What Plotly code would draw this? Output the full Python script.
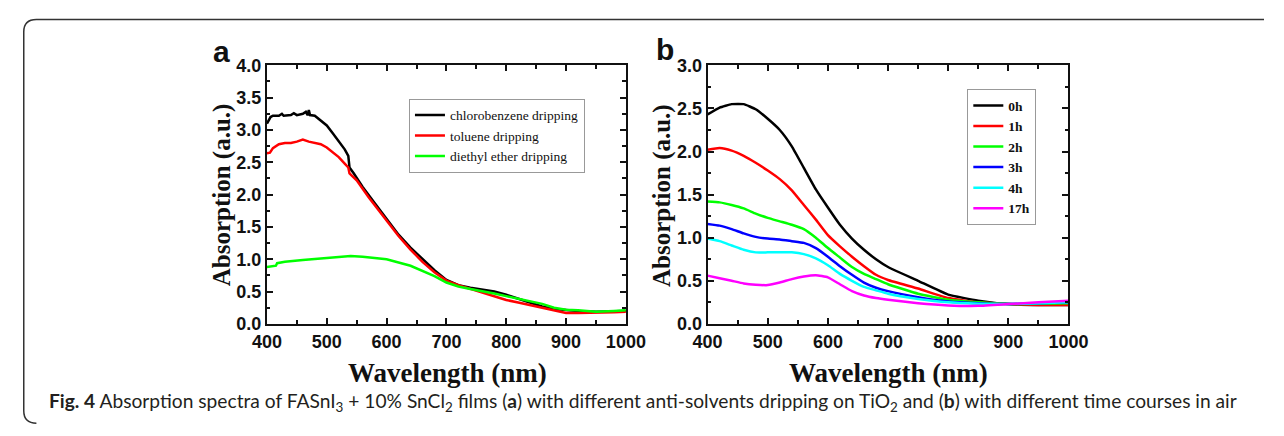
import plotly.graph_objects as go

W, H = 1284, 436

# ---------------- Panel a data ----------------
wl_chloro = [400, 403, 406, 410, 420, 425, 428, 440, 445, 450, 460, 465, 468, 470, 472, 480, 490, 500,
             510, 520, 530, 536, 538, 545, 560, 580, 600, 620, 640, 660, 680, 700, 720, 740, 760, 780,
             800, 820, 840, 860, 880, 900, 920, 950, 980, 1000]
abs_chloro = [3.10, 3.15, 3.20, 3.22, 3.22, 3.25, 3.22, 3.23, 3.26, 3.23, 3.25, 3.28, 3.23, 3.31, 3.23,
              3.22, 3.15, 3.07, 2.95, 2.83, 2.70, 2.60, 2.42, 2.33, 2.12, 1.87, 1.62, 1.38, 1.18, 1.00,
              0.83, 0.68, 0.60, 0.56, 0.53, 0.50, 0.45, 0.39, 0.33, 0.27, 0.23, 0.21, 0.20, 0.19, 0.19, 0.20]

wl_toluene = [400, 405, 410, 420, 430, 440, 450, 460, 470, 480, 490, 500, 510, 520, 530, 536, 538, 550,
              570, 600, 620, 640, 660, 680, 700, 720, 740, 760, 780, 800, 820, 840, 860, 880, 900, 920,
              950, 980, 1000]
abs_toluene = [2.64, 2.65, 2.72, 2.78, 2.80, 2.80, 2.82, 2.85, 2.82, 2.80, 2.78, 2.73, 2.66, 2.58, 2.48,
               2.42, 2.33, 2.22, 1.96, 1.60, 1.36, 1.15, 0.96, 0.80, 0.67, 0.60, 0.54, 0.49, 0.43, 0.37,
               0.33, 0.29, 0.25, 0.20, 0.17, 0.17, 0.17, 0.18, 0.19]

wl_ether = [400, 410, 415, 417, 430, 460, 500, 540, 560, 600, 640, 680, 700, 720, 740, 760, 780, 800,
            820, 840, 860, 880, 900, 920, 950, 980, 1000]
abs_ether = [0.88, 0.89, 0.90, 0.94, 0.96, 0.99, 1.02, 1.05, 1.04, 1.00, 0.90, 0.74, 0.64, 0.58, 0.54,
             0.51, 0.47, 0.43, 0.39, 0.35, 0.31, 0.25, 0.22, 0.21, 0.19, 0.20, 0.21]

names_a = ["chlorobenzene dripping", "toluene dripping", "diethyl ether dripping"]
colors_a = ["#000000", "#ff0000", "#00ff00"]

# ---------------- Panel b data ----------------
wl_b = [400, 420, 440, 460, 480, 500, 520, 540, 560, 580, 600, 620, 640, 660, 680, 700, 750, 800, 850,
        900, 950, 1000]
abs_0h = [2.43, 2.51, 2.55, 2.55, 2.49, 2.38, 2.25, 2.06, 1.81, 1.56, 1.35, 1.15, 0.99, 0.86, 0.75, 0.66,
          0.50, 0.34, 0.27, 0.23, 0.22, 0.22]
abs_1h = [2.02, 2.04, 2.01, 1.95, 1.87, 1.78, 1.68, 1.55, 1.38, 1.21, 1.03, 0.90, 0.78, 0.67, 0.57, 0.51,
          0.41, 0.30, 0.25, 0.23, 0.22, 0.22]
abs_2h = [1.42, 1.41, 1.38, 1.34, 1.28, 1.23, 1.19, 1.15, 1.10, 1.00, 0.88, 0.77, 0.66, 0.58, 0.52, 0.46,
          0.35, 0.28, 0.25, 0.23, 0.235, 0.24]
abs_3h = [1.16, 1.14, 1.10, 1.05, 1.01, 0.99, 0.98, 0.96, 0.94, 0.88, 0.78, 0.67, 0.57, 0.48, 0.42, 0.38,
          0.31, 0.26, 0.24, 0.23, 0.24, 0.25]
abs_4h = [0.99, 0.96, 0.91, 0.86, 0.83, 0.83, 0.83, 0.83, 0.81, 0.76, 0.68, 0.58, 0.50, 0.43, 0.39, 0.35,
          0.29, 0.25, 0.235, 0.23, 0.24, 0.25]
abs_17h = [0.56, 0.53, 0.50, 0.47, 0.455, 0.45, 0.48, 0.52, 0.55, 0.565, 0.54, 0.46, 0.38, 0.33, 0.30, 0.28,
           0.24, 0.215, 0.21, 0.23, 0.25, 0.27]
names_b = ["0h", "1h", "2h", "3h", "4h", "17h"]
colors_b = ["#000000", "#ff0000", "#00ff00", "#0000ff", "#00ffff", "#ff00ff"]

xticks = [400, 500, 600, 700, 800, 900, 1000]


def px(x):
    return x / W


def py(y):
    return 1 - y / H


fig = go.Figure()

for wl, vals, name, col in zip([wl_chloro, wl_toluene, wl_ether],
                               [abs_chloro, abs_toluene, abs_ether], names_a, colors_a):
    fig.add_trace(go.Scatter(x=wl, y=vals, name=name, mode="lines",
                             line=dict(color=col, width=2.5), xaxis="x", yaxis="y", legend="legend"))

for vals, name, col in zip([abs_0h, abs_1h, abs_2h, abs_3h, abs_4h, abs_17h], names_b, colors_b):
    fig.add_trace(go.Scatter(x=wl_b, y=vals, name="<b>%s</b>" % name, mode="lines",
                             line=dict(color=col, width=2.5, shape="spline", smoothing=0.4),
                             xaxis="x2", yaxis="y2", legend="legend2"))

tickfont = dict(family="Liberation Sans", size=18, color="#111111", weight="bold")
common_x = dict(range=[400, 1000], tickvals=xticks, ticks="inside", ticklen=6, tickwidth=1.5,
                showline=True, linewidth=2, linecolor="#111111", mirror="allticks", showgrid=False,
                zeroline=False, tickfont=tickfont,
                minor=dict(dtick=50, ticks="inside", ticklen=3.5, tickwidth=1.5, tickcolor="#111111"),
                tickcolor="#111111")
common_y = dict(ticks="inside", ticklen=6, tickwidth=1.5, showline=True, linewidth=2, linecolor="#111111",
                mirror="allticks", showgrid=False, zeroline=False, tickfont=tickfont, dtick=0.5,
                tickformat=".1f", tickcolor="#111111",
                minor=dict(dtick=0.25, ticks="inside", ticklen=3.5, tickwidth=1.5, tickcolor="#111111"))

ydom = [py(329), py(58)]

fig.update_layout(
    width=W, height=H, autosize=False,
    margin=dict(l=0, r=0, t=0, b=0),
    paper_bgcolor="white", plot_bgcolor="white",
    xaxis=dict(domain=[px(259), px(628)], anchor="y", **common_x),
    yaxis=dict(domain=ydom, anchor="x", range=[0, 4.0], **common_y),
    xaxis2=dict(domain=[px(712), px(1083)], anchor="y2", **common_x),
    yaxis2=dict(domain=ydom, anchor="x2", range=[0, 3.0], **common_y),
    legend=dict(x=px(405), y=py(93), xanchor="left", yanchor="top",
                bgcolor="rgba(255,255,255,0)", bordercolor="#999999", borderwidth=1,
                font=dict(family="Liberation Serif", size=13.5, color="#111111"),
                tracegroupgap=0, itemwidth=30),
    legend2=dict(x=px(979), y=py(83), xanchor="left", yanchor="top",
                 bgcolor="rgba(255,255,255,0)", bordercolor="#999999", borderwidth=1,
                 font=dict(family="Liberation Serif", size=13.5, color="#111111"),
                 tracegroupgap=0, itemwidth=30),
    showlegend=True,
)

annotations = [
    dict(text="<b>a</b>", x=px(212), y=py(44), font=dict(family="Liberation Sans", size=30, color="#111111")),
    dict(text="<b>b</b>", x=px(668), y=py(41), font=dict(family="Liberation Sans", size=30, color="#111111")),
    dict(text="<b>Wavelength (nm)</b>", x=px(445), y=py(380),
         font=dict(family="Liberation Serif", size=27, color="#111111")),
    dict(text="<b>Wavelength (nm)</b>", x=px(898), y=py(380),
         font=dict(family="Liberation Serif", size=27, color="#111111")),
    dict(text="<b>Absorption (a.u.)</b>", x=px(213), y=py(194), textangle=-90,
         font=dict(family="Liberation Serif", size=25, color="#111111")),
    dict(text="<b>Absorption (a.u.)</b>", x=px(665), y=py(194), textangle=-90,
         font=dict(family="Liberation Serif", size=25, color="#111111")),
    dict(text="<b>Fig. 4</b> Absorption spectra of FASnI<sub>3</sub> + 10% SnCl<sub>2</sub> films (<b>a</b>) "
              "with different anti-solvents dripping on TiO<sub>2</sub> and (<b>b</b>) with different time "
              "courses in air",
         x=px(33), y=py(411), xanchor="left",
         font=dict(family="Lato", size=19.2, color="#231f20")),
]
for a in annotations:
    a.setdefault("xref", "paper")
    a.setdefault("yref", "paper")
    a.setdefault("showarrow", False)
    a.setdefault("xanchor", "center")
    a.setdefault("yanchor", "middle")
fig.update_layout(annotations=annotations)

# rounded frame (top and left edges)
r = 13
path = (f"M {px(W)} {py(10)} L {px(9 + r)} {py(10)} Q {px(9)} {py(10)} {px(9)} {py(10 + r)} "
        f"L {px(9)} {py(H - 3 - r)} Q {px(9)} {py(H - 3)} {px(9 + r)} {py(H - 3)}")
fig.add_shape(type="path", path=path, xref="paper", yref="paper",
              line=dict(color="#333333", width=1.5))

fig.write_html("out.html")
